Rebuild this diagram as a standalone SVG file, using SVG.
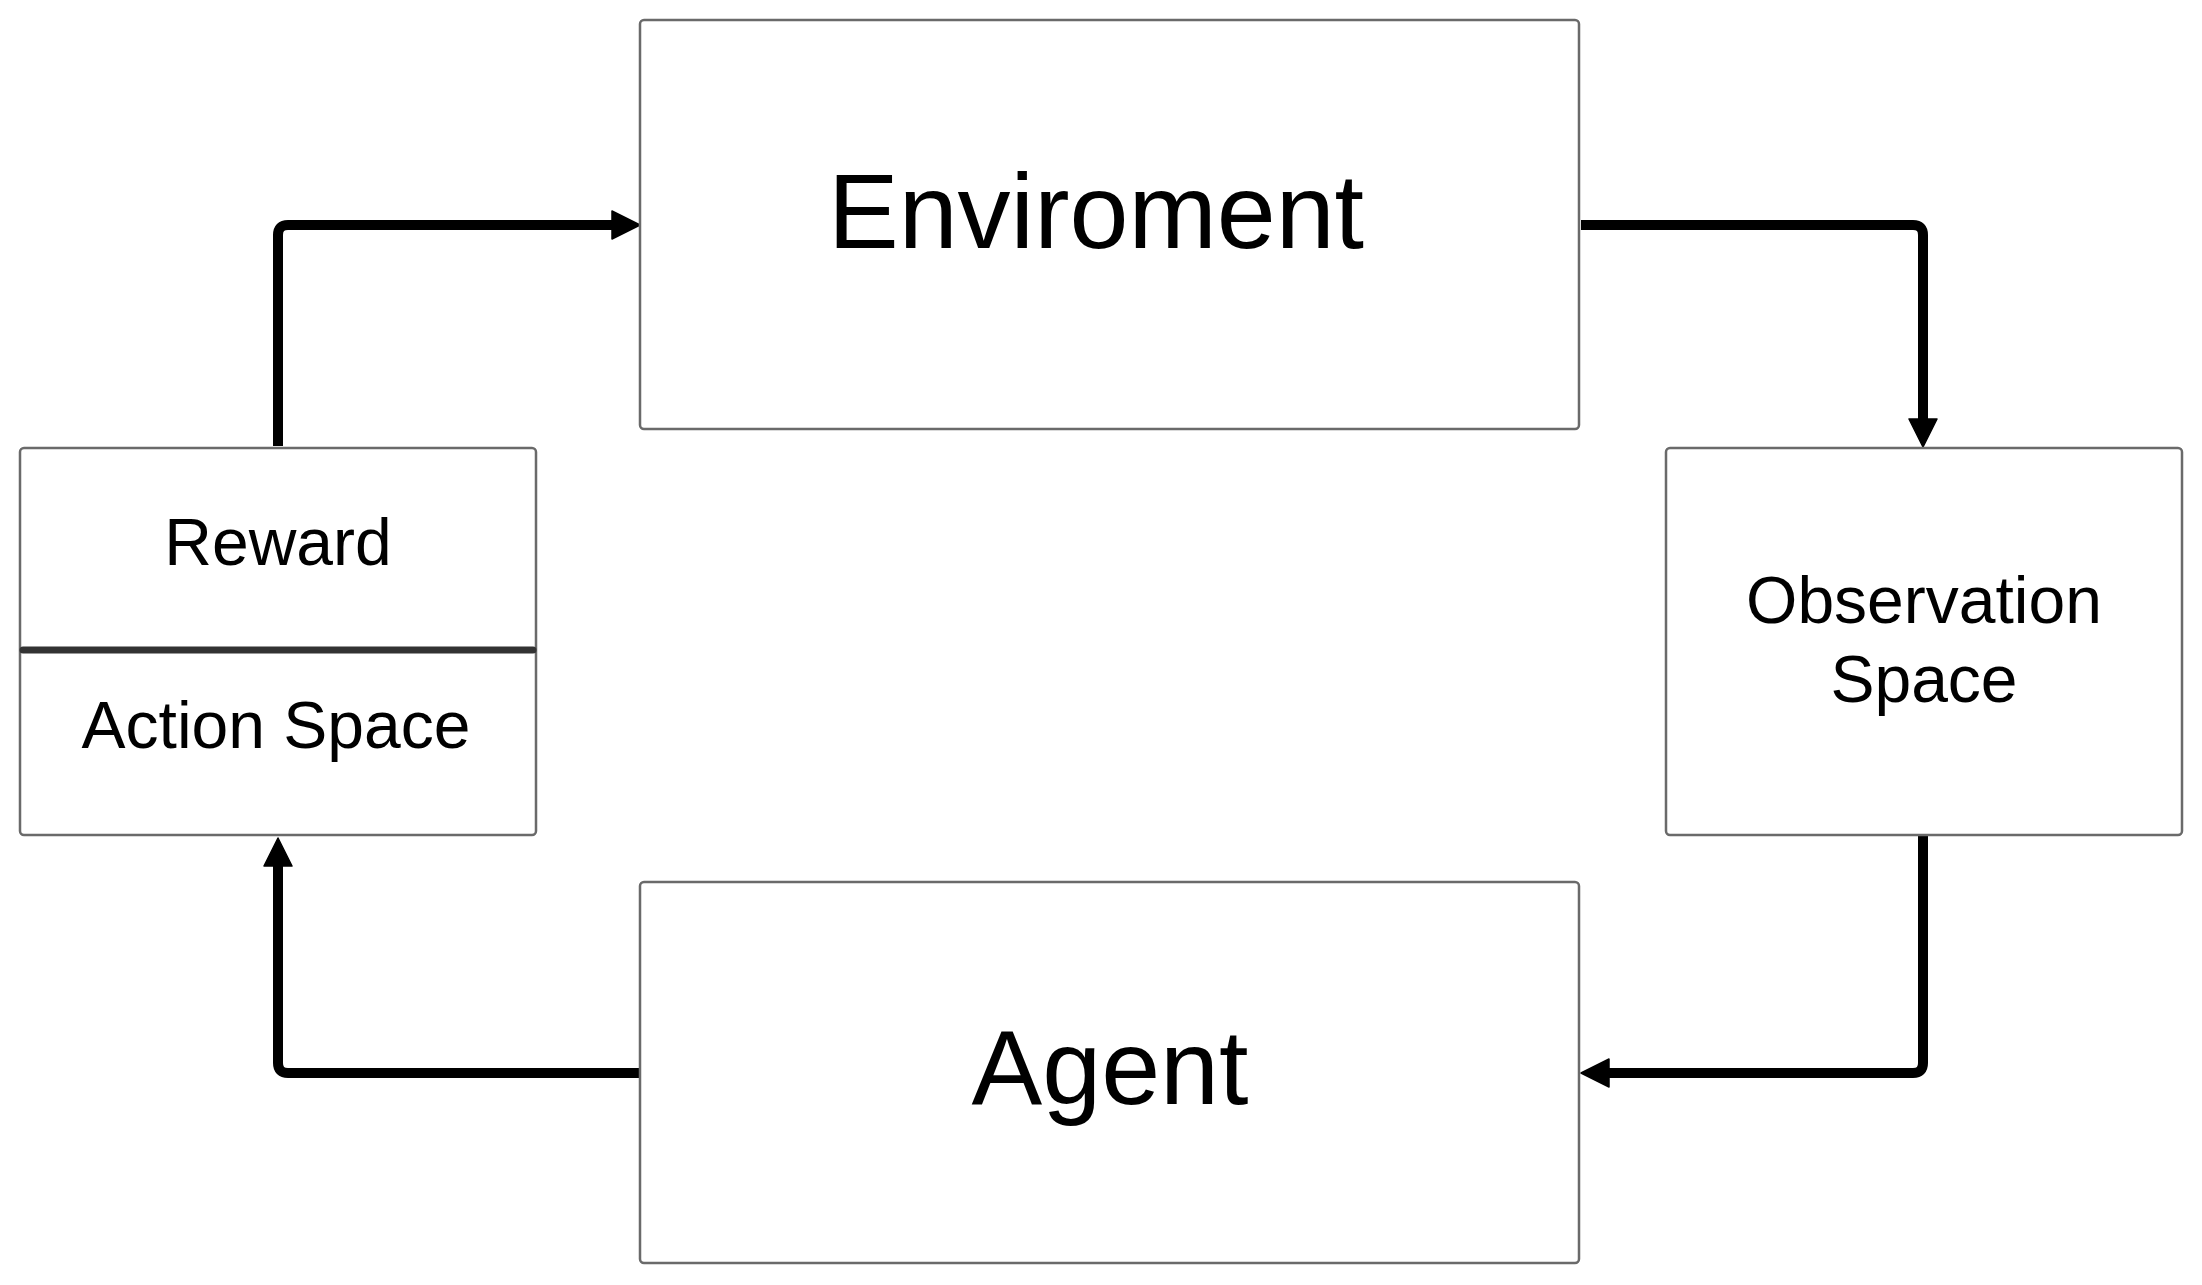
<svg xmlns="http://www.w3.org/2000/svg" width="2202" height="1285" viewBox="0 0 2202 1285">
<style>
.box{fill:#ffffff;stroke:#6a6a6a;stroke-width:2.5}
.lbl{font-family:"Liberation Sans",Arial,sans-serif;fill:#000;text-anchor:middle}
.big{font-size:106px}
.sm{font-size:66px}
.conn{fill:none;stroke:#000;stroke-width:10;stroke-linejoin:round}
</style>
<defs>
<marker id="arr" markerUnits="userSpaceOnUse" markerWidth="32" markerHeight="32" viewBox="-2 -16 32 32" refX="0" refY="0" orient="auto">
<path d="M0,-14 L28,0 L0,14 Z" fill="#000" stroke="#000" stroke-width="1.5" stroke-linejoin="round"/>
</marker>
</defs>
<rect width="2202" height="1285" fill="#ffffff"/>
<g id="connectors">
<path class="conn" d="M278,446 V235 Q278,225 288,225 H612" marker-end="url(#arr)"/>
<path class="conn" d="M1581,225 H1913 Q1923,225 1923,235 V419" marker-end="url(#arr)"/>
<path class="conn" d="M1923,836 V1063 Q1923,1073 1913,1073 H1609" marker-end="url(#arr)"/>
<path class="conn" d="M639,1073 H288 Q278,1073 278,1063 V866" marker-end="url(#arr)"/>
</g>
<g id="environment">
<rect class="box" x="640" y="20" width="939" height="409" rx="4"/>
<text class="lbl big" x="1096" y="248">Enviroment</text>
</g>
<g id="agent">
<rect class="box" x="640" y="882" width="939" height="381" rx="4"/>
<text class="lbl big" x="1110" y="1104">Agent</text>
</g>
<g id="reward-action">
<rect class="box" x="20" y="448" width="516" height="387" rx="4"/>
<line x1="23" y1="650" x2="533" y2="650" stroke="#333333" stroke-width="7" stroke-linecap="round"/>
<text class="lbl sm" x="278" y="565">Reward</text>
<text class="lbl sm" x="276" y="748">Action Space</text>
</g>
<g id="observation">
<rect class="box" x="1666" y="448" width="516" height="387" rx="4"/>
<text class="lbl sm" x="1924" y="623">Observation</text>
<text class="lbl sm" x="1924" y="702">Space</text>
</g>
</svg>
